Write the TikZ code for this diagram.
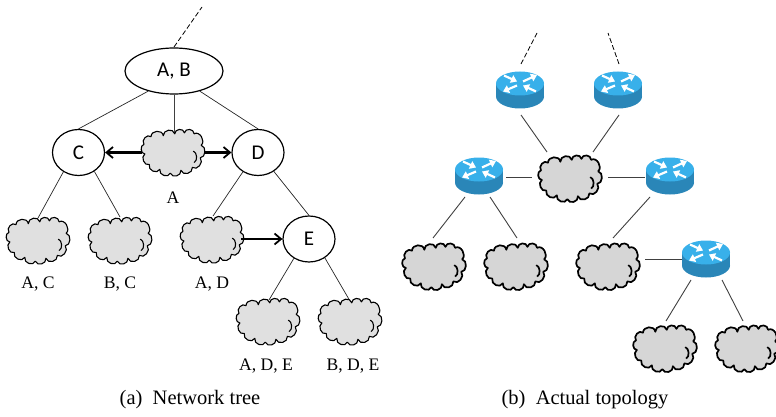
\documentclass[tikz,border=0pt]{standalone}
\usepackage{fontspec}
\setmainfont{Liberation Serif}
\newfontfamily\calib{Carlito}
\usetikzlibrary{arrows.meta,shapes.geometric}
\definecolor{cloudA}{HTML}{E0E0E0}
\definecolor{cloudB}{HTML}{D6D6D6}
\definecolor{rtop}{HTML}{38B0EA}
\definecolor{rside}{HTML}{2A86B8}
\tikzset{
  treenode/.style={ellipse,draw,line width=1.2pt,fill=white,inner sep=0pt,minimum width=52pt,minimum height=46pt,font=\calib\fontsize{21}{24}\selectfont},
  anchorbox/.style={inner sep=0pt,outer sep=0pt,minimum width=60pt,minimum height=40pt},
  link/.style={line width=0.7pt,black!85},
  toplink/.style={line width=0.9pt,black!75},
  dashlink/.style={line width=0.8pt,black,dash pattern=on 5pt off 2.5pt},
  thickarrow/.style={line width=2.4pt,-{Straight Barb[length=6.5pt,width=11pt,line width=1.8pt]}},
  lab/.style={font=\fontsize{17.6}{20}\selectfont,inner sep=0pt},
  captext/.style={font=\fontsize{20.5}{23}\selectfont,inner sep=0pt},
  bump/.style={bend left=85,looseness=1.25},
  rarrow/.style={white,line width=2.2pt,-{Triangle[length=6pt,width=8pt]}},
}
\newcommand\cloudpath[3]{%
  \begin{scope}[shift={(#1)},xscale=.88,yscale=.96,line join=round]
    \draw[fill=#2,line width=#3]
      (-25,-17) to[bump] (-11,-18) to[bump] (2,-20) to[bump] (13,-21)
      to[bump] (24,-20) to[bump] (32,-8) to[bump] (31,5)
      to[bump] (22,15) to[bump] (9,18)
      to[bump] (-3,21) to[bump] (-15,17) to[bump] (-27,12)
      to[bump] (-32,1) to[bump] (-33,-9) to[bump] (-25,-17) -- cycle;
    \draw[line width=#3] (23,-2) to[bend left=70] (24,10);
  \end{scope}}
\newcommand\cloudA[2]{\node[anchorbox] (#1) at (#2) {}; \cloudpath{#2}{cloudA}{1.1pt}}
\newcommand\cloudB[2]{\node[anchorbox] (#1) at (#2) {}; \cloudpath{#2}{cloudB}{1.7pt}}
\newcommand\routerat[2]{%
  \node[anchorbox] (#1) at (#2) {};
  \begin{scope}[shift={(#2)}]
    \fill[rside] (0,6.5) ellipse[x radius=24,y radius=12];
    \fill[rside] (-24,-6.5) rectangle (24,6.5);
    \fill[rtop] (0,-6.5) ellipse[x radius=24,y radius=12];
    \draw[rarrow] (-16,-14.5) -- (-3,-8.5);
    \draw[rarrow] (16,1.5) -- (3,-4.5);
    \draw[rarrow] (3,-8.5) -- (17,-15);
    \draw[rarrow] (-3,-4.5) -- (-17,1.5);
  \end{scope}}
\begin{document}
\begin{tikzpicture}[x=1pt,y=-1pt]
\useasboundingbox (0,0) rectangle (776,417);
% (a) tree
\node[treenode,minimum width=98pt] (ab) at (174,71) {A, B};
\node[treenode] (c) at (78.5,152.5) {C};
\node[treenode] (d) at (258,152.5) {D};
\node[treenode] (e) at (309,239) {E};
\cloudA{ca}{173,153}
\cloudA{cac}{38,241}
\cloudA{cbc}{120,241}
\cloudA{cad}{212,240}
\cloudA{cade}{268,322}
\cloudA{cbde}{350,322}
\coordinate (abup) at (202,7);
\draw[dashlink] ([shift={(0,-24)}]ab.center) -- (abup);
\draw[link] (ab.218) -- (c.north);
\draw[link] (ab.-38) -- (d.north);
\draw[toplink] (ab.south) -- ([shift={(1,-21)}]ca.center);
\draw[link] (c.-128) -- ([shift={(0,-23)}]cac.center);
\draw[link] (c.-50) -- ([shift={(0,-24)}]cbc.center);
\draw[link] (d.-128) -- ([shift={(1,-24)}]cad.center);
\draw[link] (d.-50) -- (e.north);
\draw[link] (e.-128) -- ([shift={(1,-22)}]cade.center);
\draw[link] (e.-50) -- ([shift={(0,-21)}]cbde.center);
\draw[thickarrow] ([shift={(-31,-0.5)}]ca.center) -- (c.east);
\draw[thickarrow] ([shift={(31,-0.5)}]ca.center) -- (d.west);
\draw[thickarrow] ([shift={(29,-1)}]cad.center) -- (e.west);
\node[lab] (la) at (173,198) {A};
\node[lab] (lac) at (38,284) {A, C};
\node[lab] (lbc) at (120,284) {B, C};
\node[lab] (lad) at (212,284) {A, D};
\node[lab] (lade) at (266,366) {A, D, E};
\node[lab] (lbde) at (353,366) {B, D, E};
\node[captext] (capa) at (190,400) {(a)\ \ Network tree};
% (b) topology
\routerat{r1}{520,90}
\routerat{r2}{618,90}
\routerat{r3}{479,176}
\routerat{r4}{670,176}
\routerat{r5}{706,259}
\cloudB{c0}{570,179}
\cloudB{c1}{434,267}
\cloudB{c2}{516,267}
\cloudB{c3}{608,267}
\cloudB{c4}{665,349}
\cloudB{c5}{747,349}
\coordinate (r1up) at (537,33);
\coordinate (r2up) at (608,33);
\draw[dashlink] ([shift={(1,-26)}]r1.center) -- (r1up);
\draw[dashlink] ([shift={(1,-26)}]r2.center) -- (r2up);
\draw[toplink] ([shift={(1,25)}]r1.center) -- ([shift={(-23,-27)}]c0.center);
\draw[toplink] ([shift={(1,25)}]r2.center) -- ([shift={(23,-27)}]c0.center);
\draw[toplink] ([shift={(27,1)}]r3.center) -- ([shift={(-38,-2)}]c0.center);
\draw[toplink] ([shift={(-25,1)}]r4.center) -- ([shift={(38,-2)}]c0.center);
\draw[toplink] ([shift={(-14,21)}]r3.center) -- ([shift={(-1,-29)}]c1.center);
\draw[toplink] ([shift={(11,21)}]r3.center) -- ([shift={(1,-29)}]c2.center);
\draw[toplink] ([shift={(-20,21)}]r4.center) -- ([shift={(5,-29)}]c3.center);
\draw[toplink] ([shift={(-24,0)}]r5.center) -- ([shift={(37,-8)}]c3.center);
\draw[toplink] ([shift={(-15,21)}]r5.center) -- ([shift={(1,-28)}]c4.center);
\draw[toplink] ([shift={(16,21)}]r5.center) -- ([shift={(-4,-28)}]c5.center);
\node[captext] (capb) at (585,400) {(b)\ \ Actual topology};
\end{tikzpicture}
\end{document}
